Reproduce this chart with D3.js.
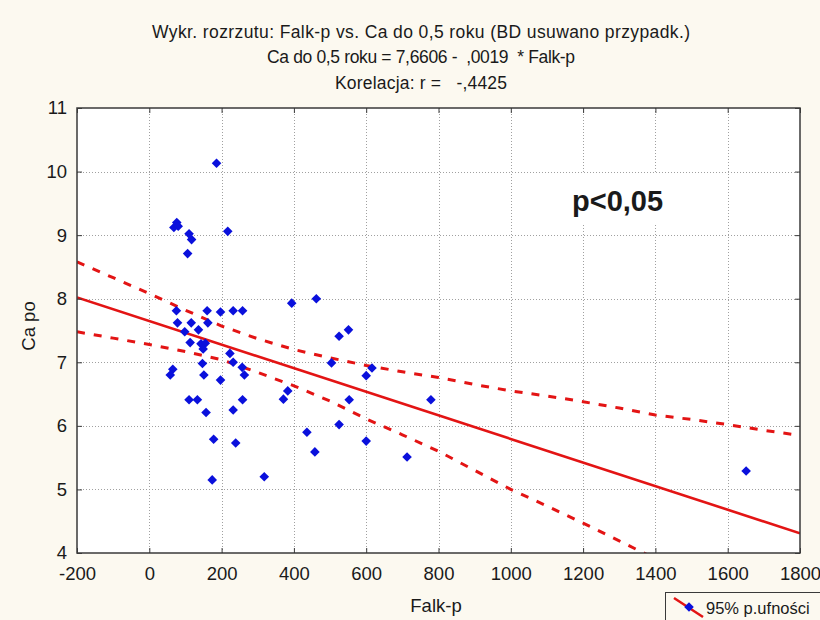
<!DOCTYPE html>
<html><head><meta charset="utf-8">
<script src="https://cdn.jsdelivr.net/npm/d3@7"></script>
<style>
body{margin:0;background:#fcf9f0;}
svg{display:block;}
text{font-family:"Liberation Sans Narrow","Arial Narrow","Liberation Sans",Arial,sans-serif;fill:#1a1a1a;}
</style></head><body>
<svg id="chart" width="820" height="620"></svg>
<script>
// ---- data ----
const titleLines = [
  "Wykr. rozrzutu: Falk-p vs. Ca do 0,5 roku (BD usuwano przypadk.)",
  "Ca do 0,5 roku = 7,6606 -  ,0019  * Falk-p",
  "Korelacja: r =   -,4425"
];
const xLabel = "Falk-p";
const yLabel = "Ca po";
const noteText = "p<0,05";
const legendText = "95% p.ufności";
const xTicks = [-200, 0, 200, 400, 600, 800, 1000, 1200, 1400, 1600, 1800];
const yTicks = [4, 5, 6, 7, 8, 9, 10, 11];

const falkP = [186, 68, 76, 80, 110, 117, 106, 217, 394, 462,
  75, 160, 197, 232, 258, 78, 116, 162, 136, 98,
  113, 143, 155, 149, 223, 232, 147, 257, 263, 65,
  58, 151, 197, 110, 133, 258, 157, 232, 383, 371,
  525, 551, 504, 616, 600, 553, 779, 525, 436, 178,
  239, 600, 458, 713, 174, 318, 1651];
const caPo = [10.13, 9.12, 9.2, 9.14, 9.02, 8.93, 8.71, 9.06, 7.93, 8.0,
  7.81, 7.81, 7.79, 7.81, 7.81, 7.62, 7.62, 7.62, 7.51, 7.48,
  7.31, 7.29, 7.3, 7.21, 7.14, 7.0, 6.98, 6.92, 6.8, 6.89,
  6.8, 6.8, 6.72, 6.41, 6.41, 6.41, 6.21, 6.25, 6.55, 6.42,
  7.41, 7.51, 6.99, 6.91, 6.79, 6.41, 6.41, 6.02, 5.9, 5.79,
  5.73, 5.76, 5.59, 5.51, 5.15, 5.2, 5.29];

const fitX = [-200, 1800];
const fitY = [8.02, 4.31];

const bandUpperX = [-200, -100, 0, 100, 200, 300, 400, 500, 600, 700, 800, 900, 1000, 1100, 1200, 1300, 1400, 1500, 1600, 1700, 1800];
const bandUpperY = [8.58, 8.33, 8.08, 7.82, 7.57, 7.37, 7.2, 7.07, 6.95, 6.85, 6.76, 6.65, 6.55, 6.47, 6.38, 6.28, 6.17, 6.1, 6.02, 5.93, 5.85];
const bandLowerX = [-200, -100, 0, 100, 200, 300, 400, 500, 600, 700, 800, 900, 1000, 1100, 1200, 1300, 1400];
const bandLowerY = [7.48, 7.38, 7.28, 7.17, 7.04, 6.84, 6.63, 6.39, 6.11, 5.86, 5.6, 5.3, 5.0, 4.74, 4.47, 4.19, 3.91];

// ---- layout ----
const L = 77, R = 800, T = 108, B = 553;
const red = "#e31414", blue = "#0a10dc", frame = "#3a3a3a";
const svg = d3.select("#chart");
svg.append("rect").attr("width", 820).attr("height", 620).attr("fill", "#fcf9f0");

const x = d3.scaleLinear().domain([-200, 1800]).range([L, R]);
const y = d3.scaleLinear().domain([4, 11]).range([B, T]);

svg.append("rect").attr("x", L).attr("y", T).attr("width", R - L).attr("height", B - T).attr("fill", "#fff");

svg.append("defs").append("clipPath").attr("id", "clip")
  .append("rect").attr("x", L).attr("y", T).attr("width", R - L).attr("height", B - T);

// grid
const grid = svg.append("g").attr("stroke", "#a0a0a0").attr("stroke-width", 1).attr("stroke-dasharray", "1,2");
grid.selectAll("line.v").data(xTicks.slice(1, -1)).join("line")
  .attr("x1", d => Math.round(x(d)) + 0.5).attr("x2", d => Math.round(x(d)) + 0.5).attr("y1", T).attr("y2", B);
grid.selectAll("line.h").data(yTicks.slice(1, -1)).join("line")
  .attr("y1", d => Math.round(y(d)) + 0.5).attr("y2", d => Math.round(y(d)) + 0.5).attr("x1", L).attr("x2", R);

// note box
svg.append("rect").attr("x", 550).attr("y", 174).attr("width", 146).attr("height", 49).attr("fill", "#fff");
svg.append("text").attr("x", 572).attr("y", 211).text(noteText)
  .style("font-family", "'Liberation Sans',Arial,sans-serif").style("font-weight", "bold").style("font-size", "29px").attr("fill", "#000");

// lines
const plot = svg.append("g").attr("clip-path", "url(#clip)");
const line = d3.line().x(d => x(d[0])).y(d => y(d[1]));
plot.append("path").datum(d3.zip(bandUpperX, bandUpperY)).attr("d", line)
  .attr("fill", "none").attr("stroke", red).attr("stroke-width", 3).attr("stroke-dasharray", "8,9");
plot.append("path").datum(d3.zip(bandLowerX, bandLowerY)).attr("d", line)
  .attr("fill", "none").attr("stroke", red).attr("stroke-width", 3).attr("stroke-dasharray", "8,9");
plot.append("path").datum(d3.zip(fitX, fitY)).attr("d", line)
  .attr("fill", "none").attr("stroke", red).attr("stroke-width", 2.6);

// points
const r = 4.8;
plot.selectAll("path.pt").data(d3.zip(falkP, caPo)).join("path")
  .attr("class", "pt")
  .attr("d", `M0,${-r}L${r},0L0,${r}L${-r},0Z`)
  .attr("transform", d => `translate(${x(d[0])},${y(d[1])})`)
  .attr("fill", blue);

// axes
const axFont = g => g.selectAll("text").style("font-size", "18.5px").attr("fill", "#1a1a1a");
const axB = svg.append("g").attr("transform", `translate(0,${B})`)
  .call(d3.axisBottom(x).tickValues(xTicks).tickSize(-5).tickPadding(14).tickFormat(d3.format("d")));
const axT = svg.append("g").attr("transform", `translate(0,${T})`)
  .call(d3.axisTop(x).tickValues(xTicks).tickSize(-5).tickFormat(""));
const axL = svg.append("g").attr("transform", `translate(${L},0)`)
  .call(d3.axisLeft(y).tickValues(yTicks).tickSize(-5).tickPadding(10).tickFormat(d3.format("d")));
const axR = svg.append("g").attr("transform", `translate(${R},0)`)
  .call(d3.axisRight(y).tickValues(yTicks).tickSize(-5).tickFormat(""));
[axB, axT, axL, axR].forEach(g => {
  g.select(".domain").remove();
  g.selectAll("line").attr("stroke", frame);
  axFont(g);
});
axB.selectAll("text").text(d => d < 0 ? "-" + Math.abs(d) : d);

svg.append("rect").attr("x", L).attr("y", T).attr("width", R - L).attr("height", B - T)
  .attr("fill", "none").attr("stroke", frame).attr("stroke-width", 1.5);

// titles
const ty = [38, 63, 89];
const tw = [538, 308, 172];
svg.selectAll("text.title").data(titleLines).join("text")
  .attr("class", "title").attr("x", 421).attr("y", (d, i) => ty[i])
  .attr("text-anchor", "middle").style("font-size", "17.5px").style("white-space", "pre")
  .attr("textLength", (d, i) => tw[i]).attr("lengthAdjust", "spacing")
  .text(d => d);

svg.append("text").attr("x", 436).attr("y", 612).attr("text-anchor", "middle").style("font-size", "18.5px").text(xLabel);
svg.append("text").attr("transform", "translate(35,326) rotate(-90)").attr("text-anchor", "middle").style("font-size", "18.5px").text(yLabel);

// legend
const lg = svg.append("g");
lg.append("rect").attr("x", 665.5).attr("y", 592.5).attr("width", 170).attr("height", 40)
  .attr("fill", "#fcf9f0").attr("stroke", frame).attr("stroke-width", 1);
lg.append("line").attr("x1", 674).attr("y1", 598).attr("x2", 703).attr("y2", 617).attr("stroke", red).attr("stroke-width", 2.5);
lg.append("path").attr("d", `M0,${-r}L${r},0L0,${r}L${-r},0Z`).attr("transform", "translate(689,607)").attr("fill", blue);
lg.append("text").attr("x", 706).attr("y", 614).style("font-size", "16.5px").text(legendText);
</script>
</body></html>
